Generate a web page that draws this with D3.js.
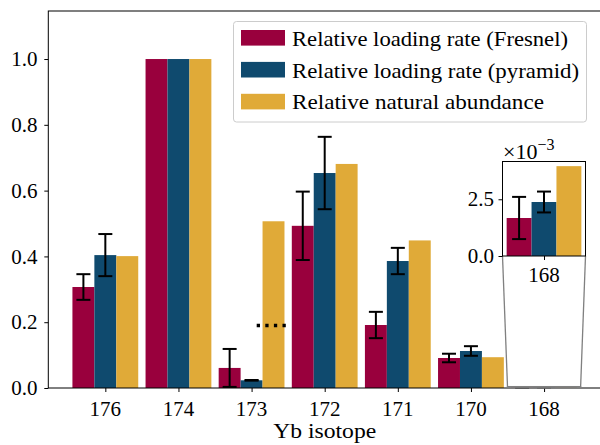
<!DOCTYPE html>
<html><head><meta charset="utf-8">
<script src="https://cdn.jsdelivr.net/npm/d3@7"></script>
<style>body{margin:0;background:#fff}svg{display:block}svg text{font-family:"Liberation Serif" !important}</style>
</head><body><svg id="c" width="600" height="445"></svg>
<script>
const isotopes = ["176","174","173","172","171","170","168"];
const fresnel = [0.307, 1.0, 0.061, 0.493, 0.1915, 0.0912, 0.001675];
const fresnelErr = [0.039, 0, 0.0577, 0.104, 0.040, 0.013, 0.00093];
const pyramid = [0.404, 1.0, 0.0234, 0.6535, 0.386, 0.1125, 0.00238];
const pyramidErr = [0.064, 0, 0.001, 0.11, 0.040, 0.0146, 0.00046];
const natural = [0.4009, 1.0, 0.5068, 0.6811, 0.4486, 0.0936, 0.00396];
const seriesNames = ["Relative loading rate (Fresnel)","Relative loading rate (pyramid)","Relative natural abundance"];
const colors = ["#99003d","#0f4a6e","#e0aa38"];
const yTicks = [0,0.2,0.4,0.6,0.8,1.0];
const insetYTicks = [0, 0.0025];
const dotted = {x:[2.07,2.48], y:0.19};
const xLabel = "Yb isotope";

const svg = d3.select("#c");
const W=0.3;
const xs = d3.scaleLinear().domain([-0.78, 6.78]).range([48.3, 601.1]);
const ys = d3.scaleLinear().domain([0, 1.146]).range([388, 11]);
const xi = d3.scaleLinear().domain([5.5,6.5]).range([502.5,585.5]);
const yi = d3.scaleLinear().domain([0,0.004165]).range([256,161.5]);
const series = [
  {v:fresnel, e:fresnelErr, off:-W},
  {v:pyramid, e:pyramidErr, off:0},
  {v:natural, e:null, off:W}
];
const idx = isotopes.map((d,i)=>i);

function drawBars(g, sx, sy, idxs){
  series.forEach((s,si)=>{
    g.selectAll(null).data(idxs).enter().append("rect")
      .attr("x", i=>sx(i+s.off-W/2)).attr("width", sx(W)-sx(0))
      .attr("y", i=>sy(s.v[i])).attr("height", i=>sy(0)-sy(s.v[i]))
      .attr("fill", colors[si]);
  });
  series.forEach(s=>{
    if(!s.e) return;
    idxs.filter(i=>s.e[i]>0).forEach(i=>{
      const cx = sx(i+s.off), y1=sy(s.v[i]+s.e[i]), y0=sy(s.v[i]-s.e[i]);
      g.append("line").attr("x1",cx).attr("x2",cx).attr("y1",y1).attr("y2",y0).attr("stroke","#000").attr("stroke-width",2);
      [y1,y0].forEach(yy=>g.append("line").attr("x1",cx-7).attr("x2",cx+7).attr("y1",yy).attr("y2",yy).attr("stroke","#000").attr("stroke-width",2));
    });
  });
}

drawBars(svg.append("g"), xs, ys, idx);

svg.append("line").attr("x1",xs(dotted.x[0])).attr("x2",xs(dotted.x[1])).attr("y1",ys(dotted.y)).attr("y2",ys(dotted.y))
  .attr("stroke","#000").attr("stroke-width",3.3).attr("stroke-dasharray","3.3,5.3");

svg.append("rect").attr("x",xs.range()[0]).attr("y",ys.range()[1]).attr("width",xs.range()[1]-xs.range()[0]).attr("height",ys.range()[0]-ys.range()[1])
  .attr("fill","none").attr("stroke","#000").attr("stroke-width",1);

function tickOnly(g){ g.attr("font-family",null).attr("font-size",null); g.select(".domain").remove(); g.selectAll("text").remove(); g.selectAll("line").attr("stroke","#000"); }
svg.append("g").attr("transform","translate(0,388)").call(d3.axisBottom(xs).tickValues(idx).tickSize(4)).call(tickOnly);
svg.append("g").attr("transform",`translate(${xs.range()[0]},0)`).call(d3.axisLeft(ys).tickValues(yTicks).tickSize(4)).call(tickOnly);

const gray = "#808080";
svg.append("rect").attr("x",xs(5.5)).attr("y",ys(0.004165)).attr("width",xs(6.5)-xs(5.5)).attr("height",ys(0)-ys(0.004165))
  .attr("fill","none").attr("stroke",gray).attr("stroke-width",1.3);
svg.append("line").attr("x1",xi(5.5)).attr("y1",yi(0)).attr("x2",xs(5.5)).attr("y2",ys(0.004165)).attr("stroke",gray).attr("stroke-width",1.3);
svg.append("line").attr("x1",xi(6.5)).attr("y1",yi(0)).attr("x2",xs(6.5)).attr("y2",ys(0.004165)).attr("stroke",gray).attr("stroke-width",1.3);

const gi = svg.append("g");
gi.append("rect").attr("x",xi(5.5)).attr("y",yi(0.004165)).attr("width",xi(6.5)-xi(5.5)).attr("height",yi(0)-yi(0.004165)).attr("fill","#fff");
drawBars(gi, xi, yi, [6]);
gi.append("rect").attr("x",xi(5.5)).attr("y",yi(0.004165)).attr("width",xi(6.5)-xi(5.5)).attr("height",yi(0)-yi(0.004165))
  .attr("fill","none").attr("stroke","#000").attr("stroke-width",1);
gi.append("g").attr("transform","translate(0,256)").call(d3.axisBottom(xi).tickValues([6]).tickSize(4)).call(tickOnly);
gi.append("g").attr("transform","translate(502.5,0)").call(d3.axisLeft(yi).tickValues(insetYTicks).tickSize(4)).call(tickOnly);

svg.append("rect").attr("x",233.5).attr("y",21.5).attr("width",353).attr("height",100.5).attr("rx",3)
  .attr("fill","#fff").attr("fill-opacity",0.8).attr("stroke","#cccccc").attr("stroke-width",1);
seriesNames.forEach((n,i)=>{
  const cy = 37.8 + i*31.9;
  svg.append("rect").attr("x",241).attr("y",cy-7.8).attr("width",44).attr("height",15.6).attr("fill",colors[i]);
});

function txt(x, y, s, size, anchor){
  return svg.append("text").attr("x",x).attr("y",y)
    .style("font-family","\"Liberation Serif\"","important").style("font-size",size+"px").style("fill","#000")
    .attr("text-anchor",anchor||"start").text(s);
}
idx.forEach(i=>txt(xs(i), 415.5, isotopes[i], 21, "middle"));
yTicks.forEach(v=>txt(37.5, ys(v)+7.2, d3.format(".1f")(v), 21, "end"));
txt((xs.range()[0]+xs.range()[1])/2, 438, xLabel, 21, "middle").attr("textLength",103).attr("lengthAdjust","spacingAndGlyphs");
txt(xi(6), 281.5, isotopes[6], 21, "middle");
insetYTicks.forEach(v=>txt(494, yi(v)+7.2, d3.format(".1f")(v*1000), 21, "end"));
const off = txt(503, 159, "", 22);
off.append("tspan").text("×10");
off.append("tspan").style("font-size","16px").attr("dy",-9).text("−3");
const lw = [276, 287, 252];
seriesNames.forEach((n,i)=>{
  const cy = 37.8 + i*31.9;
  txt(292, cy+7.8, n, 21).attr("textLength",lw[i]).attr("lengthAdjust","spacingAndGlyphs");
});
</script></body></html>
